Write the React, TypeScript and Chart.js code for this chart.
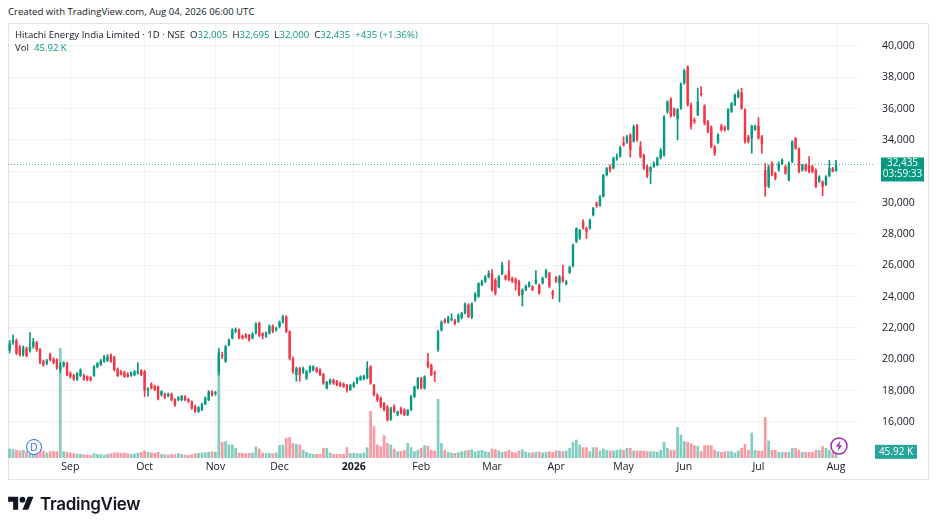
import { useEffect, useRef } from 'react';
import Chart from 'chart.js/auto';

// [open, high, low, close, volume (K)]
type Row = [number, number, number, number, number];

const AUG_2025: Row[] = [
  [20550, 21200, 20400, 21020, 70], [21060, 21550, 20950, 21230, 65], [21190, 21300, 20300, 20380, 60],
  [20800, 20900, 20200, 20280, 55], [20280, 20850, 20200, 20760, 62], [20700, 20800, 20150, 20210, 50],
  [20550, 21700, 20450, 20800, 58], [20800, 21340, 20700, 21130, 45], [21060, 21150, 20500, 20600, 52],
  [20640, 20700, 19700, 19790, 60], [19850, 19950, 19550, 19640, 55], [19740, 20000, 19650, 19920, 40],
  [20320, 20400, 19900, 19960, 48], [20000, 20100, 19700, 19790, 52], [19950, 20050, 19350, 19430, 50],
  [19350, 19800, 19150, 19600, 820], [19600, 19850, 19500, 19790, 50], [19740, 19800, 18950, 19000, 45],
];
const SEP_2025: Row[] = [
  [19100, 19200, 18800, 18890, 40], [18990, 19050, 18650, 18720, 35], [18700, 19150, 18650, 19110, 32],
  [18940, 19400, 18900, 19320, 30], [18980, 19050, 18650, 18720, 28], [18900, 18950, 18620, 18680, 25],
  [18850, 18900, 18600, 18700, 22], [18940, 19600, 18900, 19530, 35], [19530, 19800, 19450, 19740, 30],
  [19640, 20000, 19600, 19920, 28], [19850, 20250, 19800, 20170, 25], [19900, 20300, 19850, 20170, 30],
  [20280, 20350, 19800, 19850, 35], [20130, 20200, 19250, 19320, 40], [19360, 19450, 18900, 18940, 42],
  [19200, 19300, 19000, 19060, 38], [19150, 19250, 18850, 18890, 40], [19060, 19150, 18850, 18890, 35],
  [18940, 19200, 18900, 19150, 30], [19000, 19300, 18950, 19210, 32], [19100, 19790, 19050, 19210, 38],
  [19280, 19350, 18950, 19000, 45],
];
const OCT_2025: Row[] = [
  [19210, 19300, 17620, 18000, 55], [18020, 18200, 17650, 18150, 45], [18430, 18500, 18100, 18150, 40],
  [18260, 18350, 18000, 18050, 38], [18260, 18300, 17400, 17450, 45], [17720, 18000, 17650, 17960, 30],
  [17790, 17850, 17500, 17570, 28], [17660, 17850, 17600, 17790, 25], [17790, 17850, 17350, 17400, 30],
  [17450, 17500, 17000, 17080, 28], [17400, 17620, 17350, 17570, 35], [17400, 17700, 17350, 17660, 30],
  [17620, 17680, 17350, 17400, 25], [17450, 17500, 17250, 17300, 22], [17300, 17350, 16800, 16870, 28],
  [17020, 17080, 16600, 16660, 35], [16660, 16980, 16600, 16930, 38], [16770, 17200, 16720, 17140, 40],
  [17140, 17600, 17100, 17510, 42], [17400, 18000, 17350, 17940, 45], [17940, 18000, 17650, 17720, 50],
];
const NOV_2025: Row[] = [
  [17800, 17950, 17700, 17900, 45], [19210, 20700, 19000, 20450, 765], [20300, 20450, 20050, 20200, 120],
  [19850, 20900, 19800, 20810, 125], [20910, 21300, 20850, 21230, 100], [21340, 21950, 21300, 21870, 100],
  [21770, 22000, 21700, 21920, 75], [21870, 21950, 21300, 21340, 40], [21490, 21550, 21280, 21340, 38],
  [21550, 21650, 21350, 21400, 35], [21550, 21600, 21150, 21230, 38], [21340, 21700, 21300, 21620, 40],
  [21660, 22350, 21600, 22300, 85], [22300, 22380, 21450, 21490, 70], [21660, 21700, 21300, 21490, 40],
  [21450, 21750, 21400, 21700, 35], [21660, 22200, 21600, 22130, 38], [22130, 22200, 21700, 21770, 35],
  [21870, 22050, 21800, 21980, 40],
];
const DEC_2025: Row[] = [
  [22090, 22450, 22000, 22400, 95], [22400, 22800, 22300, 22720, 100], [22720, 22780, 21700, 21770, 150],
  [21770, 21820, 19950, 20060, 155], [20060, 20150, 19100, 19210, 110], [19000, 19500, 18600, 19420, 105],
  [19420, 19500, 18600, 19000, 100], [19210, 19500, 19100, 19420, 60], [18790, 19300, 18700, 19210, 45],
  [19210, 19600, 19150, 19530, 35], [19320, 19600, 19250, 19530, 30], [19420, 19500, 19150, 19210, 30],
  [19320, 19400, 18950, 19000, 30], [19060, 19100, 18400, 18470, 75], [18150, 18600, 18100, 18570, 75],
  [18470, 18750, 18400, 18680, 40], [18680, 18750, 18400, 18470, 30], [18570, 18650, 18300, 18360, 30],
  [18470, 18550, 18250, 18300, 30], [18420, 18500, 18200, 18250, 30], [18360, 18400, 17900, 18040, 80],
  [18040, 18400, 18000, 18360, 35],
];
const JAN_2026: Row[] = [
  [18250, 18550, 18200, 18470, 38], [18510, 18850, 18450, 18790, 35], [18680, 18950, 18650, 18890, 35],
  [18720, 19000, 18680, 18940, 40], [18790, 19850, 18750, 19420, 80], [19530, 19600, 18400, 18470, 350],
  [18360, 18400, 17650, 17720, 237], [17720, 17800, 17300, 17400, 100], [17510, 17600, 16900, 16980, 87],
  [17190, 17250, 16700, 16770, 170], [16980, 17050, 16050, 16130, 112], [16170, 16950, 16100, 16870, 100],
  [16980, 17100, 16600, 16660, 70], [16450, 16700, 16400, 16660, 50], [16870, 16950, 16500, 16550, 50],
  [16770, 16850, 16400, 16450, 60], [16450, 16800, 16400, 16770, 112], [16770, 17700, 16720, 17620, 80],
  [17620, 18300, 17550, 18250, 50], [18150, 18850, 18100, 18790, 60],
];
const FEB_2026: Row[] = [
  [18790, 18850, 18100, 18150, 75], [18150, 18950, 18100, 18890, 95], [19850, 20380, 19450, 19530, 90],
  [19640, 19700, 18950, 19000, 60], [19150, 19250, 18570, 19060, 55], [20600, 21850, 20500, 21760, 440],
  [21870, 22450, 21800, 22400, 112], [22510, 22600, 22300, 22340, 60], [22340, 22750, 22300, 22680, 45],
  [22500, 22900, 22450, 22600, 40], [22470, 22550, 22200, 22250, 38], [22400, 22900, 22350, 22830, 42],
  [22620, 23000, 22580, 22940, 50], [22940, 23600, 22900, 23530, 55], [23470, 23550, 22650, 22720, 60],
  [22680, 23600, 22600, 23570, 65], [23790, 24250, 23700, 24170, 50], [24000, 24900, 23950, 24850, 55],
  [24740, 25050, 24700, 24960, 60], [24960, 25350, 24900, 25270, 50], [25270, 25650, 25200, 25490, 45],
];
const MAR_2026: Row[] = [
  [25490, 25720, 24350, 24430, 70], [25060, 25150, 24100, 24210, 65], [24600, 25350, 24550, 25270, 55],
  [25450, 26200, 25400, 26020, 45], [25320, 25400, 25050, 25110, 50], [25660, 26300, 25000, 25060, 60],
  [25170, 25250, 24900, 24960, 45], [25110, 25200, 24400, 24850, 40], [24960, 25050, 24050, 24110, 55],
  [24110, 24500, 23400, 24430, 65], [24430, 24750, 24380, 24680, 48], [24640, 24950, 24600, 24900, 40],
  [24640, 24700, 24380, 24430, 42], [24850, 25660, 24800, 25060, 45], [24740, 24800, 24150, 24210, 48],
  [24850, 25250, 24800, 25170, 40], [25270, 25750, 25200, 25660, 45], [25490, 25550, 24580, 24640, 50],
  [24320, 24400, 23870, 24110, 45],
];
const APR_2026: Row[] = [
  [25210, 25300, 24900, 24960, 55], [24850, 25350, 23660, 25270, 55], [25270, 26000, 24900, 24960, 50],
  [24810, 25050, 24750, 24960, 55], [25530, 25950, 25480, 25870, 75], [25960, 27350, 25900, 27300, 120],
  [27510, 28400, 27450, 28360, 137], [27720, 28300, 27650, 28250, 100], [28790, 28900, 28300, 28360, 80],
  [28360, 28450, 27700, 28150, 80], [28360, 28950, 28300, 28890, 50], [29210, 29700, 29150, 29640, 80],
  [29960, 30050, 29700, 29780, 80], [29790, 30450, 29750, 30380, 55], [30380, 31800, 30350, 31760, 70],
  [31760, 32250, 31700, 32190, 60], [32300, 32400, 31950, 32080, 55], [32190, 32900, 32150, 32830, 55],
  [32830, 33100, 32700, 32940, 60], [32940, 33600, 32900, 33530, 65],
];
const MAY_2026: Row[] = [
  [33830, 34200, 33600, 33680, 60], [33830, 34300, 33780, 34210, 75], [34320, 34400, 32900, 33360, 75],
  [33890, 34950, 33850, 34850, 55], [34910, 35000, 33900, 33990, 55], [33570, 33900, 32850, 32940, 55],
  [33040, 33100, 32100, 32190, 55], [32300, 32400, 31600, 31660, 50], [31980, 32300, 31200, 32250, 50],
  [32300, 32600, 32250, 32510, 50], [32400, 32900, 32350, 32830, 45], [32830, 33450, 32780, 33360, 60],
  [33040, 35550, 32950, 35490, 120], [35810, 36500, 35700, 36450, 75], [36600, 36700, 35450, 35530, 60],
  [35960, 36050, 35500, 35600, 60], [35320, 36000, 34000, 35960, 230], [36020, 37650, 35950, 37570, 175],
];
const JUN_2026: Row[] = [
  [37620, 38500, 37550, 38420, 125], [38680, 38720, 36150, 36230, 120], [36230, 36350, 34700, 34850, 110],
  [35280, 35400, 35050, 35170, 95], [35600, 37300, 35550, 36450, 90], [36980, 37400, 36800, 36870, 50],
  [36170, 36250, 34950, 35060, 95], [35170, 35250, 34450, 34530, 95], [34810, 34900, 33500, 33570, 95],
  [33570, 33650, 33000, 33150, 60], [33830, 34400, 33780, 34320, 50], [34900, 35000, 34550, 34640, 45],
  [34810, 34900, 34550, 34640, 50], [34680, 36000, 34620, 35960, 50], [35810, 36400, 35750, 36340, 50],
  [36230, 36950, 36180, 36870, 40], [36720, 37200, 36680, 37080, 55], [37020, 37300, 35950, 36020, 75],
  [35920, 36000, 33800, 33890, 105], [34210, 34300, 33800, 33890, 60], [34110, 34950, 33150, 34900, 190],
  [34640, 34950, 34600, 34900, 60],
];
const JUL_2026: Row[] = [
  [34900, 35430, 34050, 34110, 55], [34210, 34300, 33150, 33740, 55], [32080, 32500, 30400, 31020, 305],
  [31020, 32400, 30950, 32300, 130], [32510, 32600, 31700, 31760, 60], [31870, 31950, 31450, 31550, 60],
  [32080, 32600, 32000, 32510, 45], [32470, 32800, 32420, 32720, 45], [32300, 32380, 31800, 31870, 45],
  [31440, 32600, 31380, 32510, 45], [32620, 33950, 32550, 33890, 75], [34110, 34150, 33400, 33460, 75],
  [33460, 33500, 31900, 31980, 60], [32080, 32450, 32000, 32400, 45], [32400, 32480, 32000, 32080, 45],
  [32400, 32940, 31900, 31980, 45], [32300, 32380, 31900, 31980, 45], [32080, 32150, 30950, 31020, 60],
  [31340, 31720, 31280, 31660, 60], [31340, 31400, 30440, 31020, 88], [31130, 31720, 31080, 31660, 75],
  [31700, 32700, 31650, 32190, 60], [32190, 32250, 31950, 32000, 45],
];
const AUG_2026: Row[] = [[32005, 32695, 32000, 32435, 45.92]];

// month blocks, tick text shown at the first candle of each month
const MONTHS: { tick: string; rows: Row[] }[] = [
  { tick: '', rows: AUG_2025 },
  { tick: 'Sep', rows: SEP_2025 },
  { tick: 'Oct', rows: OCT_2025 },
  { tick: 'Nov', rows: NOV_2025 },
  { tick: 'Dec', rows: DEC_2025 },
  { tick: '2026', rows: JAN_2026 },
  { tick: 'Feb', rows: FEB_2026 },
  { tick: 'Mar', rows: MAR_2026 },
  { tick: 'Apr', rows: APR_2026 },
  { tick: 'May', rows: MAY_2026 },
  { tick: 'Jun', rows: JUN_2026 },
  { tick: 'Jul', rows: JUL_2026 },
  { tick: 'Aug', rows: AUG_2026 },
];
const EMPTY_SLOTS = 6;
const PRICE_TICKS = [16000, 18000, 20000, 22000, 24000, 26000, 28000, 30000, 32000, 34000, 36000, 38000, 40000];

const LAST_CLOSE = 32435;
const LAST_VOL = 45.92;
const COUNTDOWN = '03:59:33';

const UP = '#089981';
const DOWN = '#f23645';
const UP_VOL = 'rgba(8,153,129,0.5)';
const DOWN_VOL = 'rgba(242,54,69,0.5)';
const GRID = 'rgba(42,46,57,0.06)';
const TEXT = '#131722';
const FONT = '"Open Sans", "Noto Sans", sans-serif';

// chart.js reserves room for half a tick label at the ends; the pane here runs edge to edge
const noPadding = (s: any) => {
  s.paddingTop = 0;
  s.paddingBottom = 0;
  s.paddingLeft = 0;
  s.paddingRight = 0;
};

const lastPricePlugin = {
  id: 'lastPrice',
  afterDatasetsDraw(chart: any) {
    const { ctx, chartArea, scales } = chart;
    const py = scales.y.getPixelForValue(LAST_CLOSE);
    const vy = scales.yVol.getPixelForValue(LAST_VOL);
    ctx.save();
    ctx.strokeStyle = UP;
    ctx.globalAlpha = 0.7;
    ctx.lineWidth = 1;
    ctx.setLineDash([1, 2]);
    ctx.beginPath();
    ctx.moveTo(chartArea.left, Math.round(py) + 0.5);
    ctx.lineTo(chartArea.right + 16, Math.round(py) + 0.5);
    ctx.stroke();
    ctx.setLineDash([]);
    ctx.globalAlpha = 1;

    const bx = chartArea.right + 23;
    ctx.fillStyle = UP;
    ctx.fillRect(bx, py - 7, 43, 24);
    ctx.fillStyle = '#fff';
    ctx.font = `10px ${FONT}`;
    ctx.textBaseline = 'middle';
    ctx.textAlign = 'center';
    ctx.fillText('32,435', bx + 21.5, py - 1);
    ctx.fillText(COUNTDOWN, bx + 21.5, py + 10);

    ctx.fillStyle = '#26a69a';
    ctx.fillRect(chartArea.right + 17, vy - 7, 42, 14);
    ctx.fillStyle = '#fff';
    ctx.fillText('45.92 K', chartArea.right + 38, vy);
    ctx.restore();
  },
};

const App = () => {
  const canvasRef = useRef<HTMLCanvasElement | null>(null);
  const chartRef = useRef<Chart | null>(null);

  useEffect(() => {
    if (!canvasRef.current) return;
    const ctx = canvasRef.current.getContext('2d');
    if (!ctx) return;
    if (chartRef.current) chartRef.current.destroy();

    const rows: Row[] = [];
    const labels: string[] = [];
    const tickAt: Record<number, string> = {};
    MONTHS.forEach((m) => {
      if (m.tick) tickAt[labels.length] = m.tick;
      m.rows.forEach((r, k) => {
        rows.push(r);
        labels.push(`${m.tick || 'Aug'} ${k + 1}`);
      });
    });
    for (let k = 0; k < EMPTY_SLOTS; k++) labels.push(`pad ${k}`);

    const bodies = rows.map((r) => [r[0], r[3]]);
    const wicks = rows.map((r) => [r[2], r[1]]);
    const vols = rows.map((r) => r[4]);
    const colors = rows.map((r) => (r[3] >= r[0] ? UP : DOWN));
    const volColors = rows.map((r) => (r[3] >= r[0] ? UP_VOL : DOWN_VOL));

    chartRef.current = new Chart(ctx, {
      type: 'bar',
      data: {
        labels,
        datasets: [
          {
            label: 'body',
            data: bodies,
            yAxisID: 'y',
            backgroundColor: colors,
            borderWidth: 0,
            barPercentage: 0.72,
            categoryPercentage: 1,
            grouped: false,
            order: 0,
          },
          {
            label: 'wick',
            data: wicks,
            yAxisID: 'y',
            backgroundColor: colors,
            borderWidth: 0,
            barThickness: 1,
            grouped: false,
            order: 1,
          },
          {
            label: 'volume',
            data: vols,
            yAxisID: 'yVol',
            backgroundColor: volColors,
            borderWidth: 0,
            barPercentage: 0.8,
            categoryPercentage: 1,
            grouped: false,
            order: 2,
          },
        ],
      },
      options: {
        animation: false,
        responsive: false,
        layout: { padding: 0, autoPadding: false },
        plugins: { legend: { display: false }, tooltip: { enabled: false } },
        scales: {
          x: {
            offset: true,
            grid: { offset: false, color: GRID, drawTicks: false },
            border: { display: false },
            ticks: {
              autoSkip: false,
              maxRotation: 0,
              padding: 3,
              color: TEXT,
              font: (c: any) => ({
                family: FONT,
                size: 10.5,
                weight: c.tick && c.tick.label === '2026' ? 'bold' : 'normal',
              }),
              callback: (_v: any, i: number) => (tickAt[i] !== undefined ? tickAt[i] : null),
            },
            afterFit: (s: any) => {
              s.height = 23;
              noPadding(s);
            },
          },
          y: {
            position: 'right',
            min: 13700,
            max: 41400,
            grid: { color: GRID, drawTicks: false },
            border: { display: false },
            afterBuildTicks: (s: any) => {
              s.ticks = PRICE_TICKS.map((v) => ({ value: v }));
            },
            ticks: {
              padding: 24,
              color: TEXT,
              font: { family: FONT, size: 10.5 },
              callback: (v: any) => Number(v).toLocaleString('en-US'),
            },
            afterFit: (s: any) => {
              s.width = 71;
              noPadding(s);
            },
          },
          yVol: { display: false, min: 0, max: 3240, afterFit: noPadding },
        },
      },
      plugins: [lastPricePlugin],
    } as any);

    return () => {
      if (chartRef.current) {
        chartRef.current.destroy();
        chartRef.current = null;
      }
    };
  }, []);

  const green = { color: UP };
  return (
    <div
      style={{
        position: 'fixed',
        left: 0,
        top: 0,
        width: 936,
        height: 529,
        background: '#fff',
        fontFamily: FONT,
        color: TEXT,
        overflow: 'hidden',
      }}
    >
      <div style={{ position: 'absolute', left: 8, top: 5, fontSize: 9.6, whiteSpace: 'nowrap' }}>
        Created with TradingView.com, Aug 04, 2026 06:00 UTC
      </div>
      <div
        style={{
          position: 'absolute',
          left: 8,
          top: 23,
          width: 921,
          height: 457,
          boxSizing: 'border-box',
          border: '1px solid #e0e3eb',
        }}
      />
      <canvas ref={canvasRef} width={921} height={457} style={{ position: 'absolute', left: 8, top: 24 }} />
      <div style={{ position: 'absolute', left: 15, top: 28, fontSize: 9.6, whiteSpace: 'nowrap' }}>
        Hitachi Energy India Limited · 1D · NSE&nbsp;&nbsp;O<span style={green}>32,005</span>&nbsp;&nbsp;H
        <span style={green}>32,695</span>&nbsp;&nbsp;L<span style={green}>32,000</span>&nbsp;&nbsp;C
        <span style={green}>32,435</span>&nbsp;&nbsp;<span style={green}>+435 (+1.36%)</span>
      </div>
      <div style={{ position: 'absolute', left: 15, top: 41, fontSize: 9.6, whiteSpace: 'nowrap' }}>
        Vol&nbsp;&nbsp;<span style={green}>45.92 K</span>
      </div>
      <div
        style={{
          position: 'absolute',
          left: 26,
          top: 439,
          width: 14,
          height: 14,
          borderRadius: '50%',
          border: '1px solid #2962ff',
          background: '#fff',
          color: '#2962ff',
          fontSize: 10,
          lineHeight: '14px',
          textAlign: 'center',
        }}
      >
        D
      </div>
      <svg style={{ position: 'absolute', left: 830, top: 437 }} width={18} height={18} viewBox="0 0 18 18">
        <circle cx={9} cy={9} r={8} fill="#fff" stroke="#9c27b0" strokeWidth={1.5} />
        <path d="M10.5 3.5 L5.8 9.6 H8.8 L7.4 14.5 L12.2 8.3 H9.2 Z" fill="#9c27b0" />
      </svg>
      <div style={{ position: 'absolute', left: 8, top: 494, display: 'flex', alignItems: 'center' }}>
        <svg width={26} height={20} viewBox="0 0 36 28">
          <path d="M14 22H7V11H0V4h14v18zM28 22h-8l7.5-18h8L28 22z" fill={TEXT} />
          <circle cx={20} cy={8} r={4} fill={TEXT} />
        </svg>
        <span style={{ marginLeft: 6, fontSize: 17, fontWeight: 600, fontFamily: 'Inter, sans-serif', letterSpacing: -0.3 }}>
          TradingView
        </span>
      </div>
    </div>
  );
};

export default App;
